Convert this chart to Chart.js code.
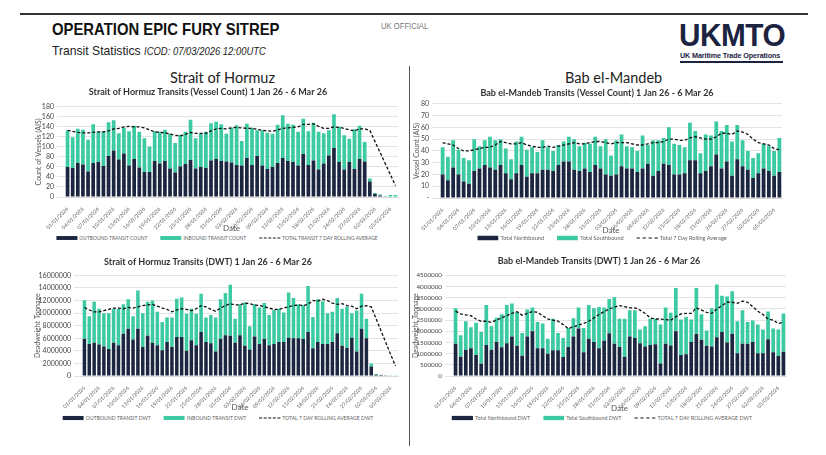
<!DOCTYPE html>
<html lang="en">
<head>
<meta charset="UTF-8">
<title>Operation Epic Fury Sitrep - Transit Statistics</title>
<script src="https://cdn.jsdelivr.net/npm/chart.js"></script>
<style>
    body { margin: 0; width: 826px; height: 455px; background: #fff; position: relative; overflow: hidden; font-family: 'Liberation Sans', Arial, sans-serif; }
    .abs { position: absolute; white-space: nowrap; }
    #topLine { left: 20px; top: 13px; width: 788px; height: 2px; background: #333; }
    #mainTitle { left: 52px; top: 20px; font-size: 16.5px; font-weight: bold; color: #111; transform: scaleX(0.9); transform-origin: left; }
    #subTitle { left: 52px; top: 43px; font-size: 13.5px; color: #222; transform: scaleX(0.9); transform-origin: left; }
    #subTitle i { font-size: 10.5px; }
    #official { left: 381px; top: 21px; font-size: 8.5px; color: #777; transform: scaleX(0.9); transform-origin: left; }
    #logo { left: 679px; top: 18px; font-size: 31px; font-weight: bold; color: #1b2340; transform: scaleX(0.96); transform-origin: left; letter-spacing: -0.5px; }
    #logoSub { left: 680px; top: 51px; font-size: 7.2px; font-weight: bold; color: #1b2340; letter-spacing: -0.1px; }
    #logoLine { left: 680px; top: 61px; width: 103px; height: 2px; background: #1b2340; }
    #divider { left: 409px; top: 66px; width: 1px; height: 380px; background: #555; }
    .section { font-family: Lato, sans-serif; font-size: 14.5px; color: #222; top: 69px; }
    canvas { position: absolute; }
    /* legend text is drawn at 10px and scaled down, small css font sizes get clamped */
    .legend { position: absolute; display: flex; align-items: center; justify-content: center; height: 14px; font-family: Lato, sans-serif;
              font-size: 10px; color: #5f5f5f; white-space: nowrap; transform-origin: left center; }
    .legend-item { display: flex; align-items: center; }
    .swatch { display: inline-block; width: 40px; height: 8px; margin-right: 4px; }
    .swatch.dash { height: 0; border-top: 2.5px dashed #111; }
</style>
</head>
<body>
    <div class="abs" id="topLine"></div>
    <div class="abs" id="mainTitle">OPERATION EPIC FURY SITREP</div>
    <div class="abs" id="subTitle">Transit Statistics <i>ICOD: 07/03/2026 12:00UTC</i></div>
    <div class="abs" id="official">UK OFFICIAL</div>
    <div class="abs" id="logo">UKMTO</div>
    <div class="abs" id="logoSub">UK Maritime Trade Operations</div>
    <div class="abs" id="logoLine"></div>
    <div class="abs" id="divider"></div>
    <div class="abs section" style="left:170px;">Strait of Hormuz</div>
    <div class="abs section" style="left:565px;">Bab el-Mandeb</div>

    <canvas id="hormuzCount" width="390" height="147" style="left:18px; top:86px;"></canvas>
    <canvas id="babCount" width="395" height="151" style="left:412px; top:84px;"></canvas>
    <canvas id="hormuzDwt" width="390" height="160" style="left:18px; top:252px;"></canvas>
    <canvas id="babDwt" width="395" height="161" style="left:412px; top:252px;"></canvas>

    <script>
        // Dates 1 Jan 26 - 6 Mar 26
        const dates = [
            '01/01/2026','02/01/2026','03/01/2026','04/01/2026','05/01/2026','06/01/2026','07/01/2026','08/01/2026','09/01/2026','10/01/2026',
            '11/01/2026','12/01/2026','13/01/2026','14/01/2026','15/01/2026','16/01/2026','17/01/2026','18/01/2026','19/01/2026','20/01/2026',
            '21/01/2026','22/01/2026','23/01/2026','24/01/2026','25/01/2026','26/01/2026','27/01/2026','28/01/2026','29/01/2026','30/01/2026',
            '31/01/2026','01/02/2026','02/02/2026','03/02/2026','04/02/2026','05/02/2026','06/02/2026','07/02/2026','08/02/2026','09/02/2026',
            '10/02/2026','11/02/2026','12/02/2026','13/02/2026','14/02/2026','15/02/2026','16/02/2026','17/02/2026','18/02/2026','19/02/2026',
            '20/02/2026','21/02/2026','22/02/2026','23/02/2026','24/02/2026','25/02/2026','26/02/2026','27/02/2026','28/02/2026','01/03/2026',
            '02/03/2026','03/03/2026','04/03/2026','05/03/2026','06/03/2026'
        ];

        // Strait of Hormuz - vessel count
        const hormuzOutCount = [60,58,68,65,51,68,70,62,82,93,75,87,63,76,59,50,50,72,67,72,57,49,61,66,74,57,60,58,73,76,
            72,71,69,64,63,78,64,82,63,56,60,68,78,72,70,63,86,64,73,55,67,83,98,70,55,70,56,76,71,31,6,3,1,1,1];
        const hormuzInCount = [73,61,68,69,63,77,60,69,67,60,52,51,68,66,71,67,51,59,63,62,69,59,63,64,80,60,66,72,74,74,
            73,55,69,79,49,68,74,51,70,72,66,76,85,74,74,67,70,67,75,75,60,50,67,70,68,46,79,66,39,6,2,2,1,3,3];
        const hormuzAvgCount = [133,131,129,128,128,129,130,130,132,136,137,140,141,140,140,138,134,130,129,128,126,123,122,125,129,127,127,127,132,136,
            137,136,138,139,138,137,137,135,133,132,131,134,137,138,139,140,145,145,146,141,137,137,140,139,137,134,132,136,136,133,111,89,67,45,23];

        // Bab el-Mandeb - vessel count
        const babNorthCount = [20,15,26,20,14,12,23,25,28,26,24,28,21,16,21,28,18,21,21,24,24,23,28,31,31,24,23,25,22,28,
            25,20,19,20,27,25,25,22,25,29,19,23,29,28,20,20,21,32,32,21,23,27,37,25,31,19,33,27,24,17,21,25,23,19,22];
        const babSouthCount = [23,20,23,21,20,20,27,19,21,26,25,22,21,17,27,24,23,22,18,25,19,17,17,17,21,26,21,22,24,24,
            19,30,17,29,27,19,18,18,28,16,30,26,22,32,26,25,22,32,25,17,31,26,28,32,31,29,29,22,16,17,17,21,21,21,29];
        const babAvgCount = [47,46,45,42,40,40,41,42,43,43,45,48,47,46,46,47,45,44,43,43,44,43,44,45,46,47,46,46,47,48,
            48,47,46,47,47,47,46,45,45,46,47,47,48,50,50,49,49,51,52,51,50,50,52,55,55,54,57,56,54,50,47,46,45,42,41];

        // Strait of Hormuz - deadweight tonnage
        const hormuzOutDwt = [5900000,5100000,5300000,5000000,4700000,4300000,5300000,4900000,6700000,7500000,5800000,7500000,4600000,6400000,5300000,
            4900000,4100000,5400000,4600000,6200000,6200000,4000000,5700000,4900000,7000000,5400000,5200000,3900000,5900000,6500000,
            6400000,5300000,6500000,4800000,4200000,6300000,5100000,5900000,4900000,5100000,5400000,5400000,6100000,6000000,6000000,
            5900000,7000000,4400000,5400000,5100000,5100000,5400000,6800000,4800000,4500000,6100000,3900000,7500000,6000000,1500000,
            200000,150000,100000,60000,60000];
        const hormuzInDwt = [6150000,4400000,6500000,5700000,5300000,5700000,5400000,5800000,4700000,4700000,3700000,6100000,5400000,5400000,6700000,
            5300000,4500000,3900000,4700000,6100000,6300000,5900000,5000000,5000000,6100000,3900000,4500000,5400000,6300000,6700000,
            8100000,3800000,4900000,6900000,3700000,5100000,5800000,5700000,4800000,5400000,5300000,4700000,7200000,6400000,5400000,
            5400000,7300000,5000000,6800000,6800000,4900000,4800000,5600000,5900000,6500000,3900000,6500000,5600000,3100000,500000,
            100000,50000,30000,40000,40000];
        const hormuzAvgDwt = [10900000,10500000,10200000,10200000,10400000,10600000,10800000,10800000,10700000,10900000,10800000,11000000,11200000,11300000,11400000,
            11100000,10800000,10600000,10200000,10500000,10700000,10600000,10400000,10700000,11200000,11000000,10600000,10300000,10800000,11200000,
            11500000,11300000,11300000,11600000,11500000,11300000,11200000,11000000,10800000,10600000,10600000,10800000,11000000,11200000,11300000,
            11200000,11400000,12000000,11900000,12200000,12000000,11600000,11400000,11500000,11200000,11100000,10700000,11100000,11200000,11000000,
            9100000,7200000,5300000,3400000,1600000];

        // Bab el-Mandeb - deadweight tonnage
        const babNorthDwt = [1440000,860000,1170000,1240000,940000,550000,1390000,1170000,1520000,1290000,1470000,1770000,1350000,910000,1770000,
            2000000,1240000,1240000,1000000,1150000,1150000,850000,1300000,1770000,2120000,1060000,1670000,1520000,1240000,1580000,
            1910000,1440000,1300000,860000,1770000,1700000,1470000,1320000,1390000,1420000,560000,1440000,1360000,2000000,940000,
            970000,1520000,1880000,1620000,1350000,1320000,1730000,1970000,1500000,1890000,1020000,1440000,1440000,1520000,1020000,
            1020000,1640000,1060000,890000,1090000];
        const babSouthDwt = [1590000,960000,1280000,940000,1440000,1420000,1790000,1060000,1090000,1470000,1710000,1470000,1510000,1010000,1200000,
            1060000,1180000,1110000,670000,1410000,770000,850000,850000,810000,940000,1090000,1510000,1510000,1850000,1480000,
            1530000,2080000,1260000,1700000,1170000,1240000,610000,910000,1170000,1140000,1740000,1620000,1470000,1940000,1590000,
            1670000,1010000,2060000,1140000,680000,1710000,2360000,1620000,2060000,1900000,1430000,1500000,970000,960000,1280000,
            1060000,1240000,1060000,1190000,1710000];
        const babAvgDwt = [2900000,2780000,2730000,2700000,2550000,2450000,2450000,2400000,2500000,2600000,2700000,2800000,2880000,2720000,2800000,
            2880000,2850000,2700000,2550000,2500000,2450000,2300000,2120000,2200000,2280000,2350000,2450000,2600000,2750000,2880000,
            3000000,3080000,3150000,3100000,3050000,3050000,2950000,2800000,2600000,2550000,2550000,2520000,2500000,2650000,2780000,
            2800000,2800000,3050000,2950000,2850000,2800000,3000000,3150000,3300000,3300000,3250000,3350000,3300000,3100000,2900000,
            2750000,2550000,2500000,2350000,2400000];

        const NAVY = '#1c2640';
        const TEAL = '#3ccaa2';
        Chart.defaults.font.family = 'Lato';

        // Legend drawn as html under each chart, centred on cx
        function addLegend(chart, cx, y, scale) {
            const box = document.createElement('div');
            box.className = 'legend';
            const w = 380;
            box.style.width = (w / scale) + 'px';
            box.style.left = (cx - w / 2) + 'px';
            box.style.top = (y - 7) + 'px';
            box.style.gap = (13 / scale) + 'px';
            box.style.transform = 'scale(' + scale + ')';
            chart.data.datasets.forEach((ds) => {
                const item = document.createElement('div');
                item.className = 'legend-item';
                const sw = document.createElement('span');
                sw.className = ds.type === 'line' ? 'swatch dash' : 'swatch';
                sw.style.width = (21 / scale) + 'px';
                if (ds.type !== 'line') sw.style.background = ds.backgroundColor;
                item.appendChild(sw);
                item.appendChild(document.createTextNode(ds.label));
                box.appendChild(item);
            });
            document.body.appendChild(box);
        }

        // lay = padding and fixed axis sizes for each panel
        function createChart(canvasId, title, dark, teal, avg, names, yTitle, yMax, yStep, zeroLabel, lay) {
            const chart = new Chart(document.getElementById(canvasId), {
                type: 'bar',
                data: {
                    labels: dates,
                    datasets: [
                        { label: names[0], data: dark, backgroundColor: NAVY, stack: 'v', order: 1, barPercentage: 0.72, categoryPercentage: 1 },
                        { label: names[1], data: teal, backgroundColor: TEAL, stack: 'v', order: 1, barPercentage: 0.72, categoryPercentage: 1 },
                        { type: 'line', label: names[2], data: avg, borderColor: '#111', borderWidth: 1.3, borderDash: [3, 2],
                          pointRadius: 0, fill: false, stack: 'avg', order: 0, tension: 0 }
                    ]
                },
                options: {
                    responsive: false,
                    animation: false,
                    layout: { padding: { left: 0, right: lay.right, top: lay.top, bottom: 0 } },
                    plugins: {
                        title: { display: true, text: title, color: '#333', font: { size: 9, weight: 'bold' }, padding: { top: 0, bottom: lay.titleGap } },
                        tooltip: { enabled: false },
                        legend: { display: false }
                    },
                    scales: {
                        x: {
                            stacked: true,
                            grid: { display: false },
                            border: { color: '#d9d9d9' },
                            afterFit: (s) => { s.height = lay.xHeight; },
                            ticks: {
                                autoSkip: false, maxRotation: 45, minRotation: 45, color: '#555', font: { size: 5.2 }, padding: 1,
                                callback: (v, i) => i % 3 === 0 ? dates[i] : ''
                            },
                            title: { display: true, text: 'Date', color: '#555', font: { size: 8 }, padding: 0 }
                        },
                        y: {
                            stacked: true, min: 0, max: yMax,
                            grid: { color: '#e4e4e4' },
                            border: { display: false },
                            afterFit: (s) => { s.width = lay.yWidth; },
                            ticks: {
                                stepSize: yStep, autoSkip: false, color: '#444', font: { size: lay.tickSize },
                                callback: (v) => v === 0 ? zeroLabel : String(v)
                            },
                            title: { display: true, text: yTitle, color: '#555', font: { size: 7 }, padding: { top: lay.yTitleX, bottom: 0 } }
                        }
                    }
                }
            });
            addLegend(chart, lay.legendCx, lay.legendY, lay.legendScale);
        }

        createChart('hormuzCount', 'Strait of Hormuz Transits (Vessel Count) 1 Jan 26 - 6 Mar 26',
            hormuzOutCount, hormuzInCount, hormuzAvgCount,
            ['OUTBOUND TRANSIT COUNT', 'INBOUND TRANSIT COUNT', 'TOTAL TRANSIT 7 DAY ROLLING AVERAGE'],
            'Count of Vessels (AIS)', 180, 20, '0',
            { right: 10, top: 1, titleGap: 9, yWidth: 47, yTitleX: 17, tickSize: 7, xHeight: 36, legendY: 238, legendCx: 217, legendScale: 0.49 });
        createChart('babCount', 'Bab el-Mandeb Transits (Vessel Count) 1 Jan 26 - 6 Mar 26',
            babNorthCount, babSouthCount, babAvgCount,
            ['Total Northbound', 'Total Southbound', 'Total 7 Day Rolling Average'],
            'Vessel Count (AIS)', 80, 10, '-',
            { right: 25, top: 4, titleGap: 5, yWidth: 28, yTitleX: 1, tickSize: 7, xHeight: 37, legendY: 238, legendCx: 602, legendScale: 0.56 });
        createChart('hormuzDwt', 'Strait of Hormuz Transits (DWT) 1 Jan 26 - 6 Mar 26',
            hormuzOutDwt, hormuzInDwt, hormuzAvgDwt,
            ['OUTBOUND TRANSIT DWT', 'INBOUND TRANSIT DWT', 'TOTAL 7 DAY ROLLING AVERAGE DWT'],
            'Deadweight Tonnage', 16000000, 2000000, '0',
            { right: 10, top: 5, titleGap: 7.6, yWidth: 64, yTitleX: 16, tickSize: 7, xHeight: 36, legendY: 418, legendCx: 218, legendScale: 0.51 });
        createChart('babDwt', 'Bab el-Mandeb Transits (DWT) 1 Jan 26 - 6 Mar 26',
            babNorthDwt, babSouthDwt, babAvgDwt,
            ['Total Northbound DWT', 'Total Southbound DWT', 'TOTAL 7 DAY ROLLING AVERAGE DWT'],
            'Deadweight Tonnage', 4500000, 500000, '0',
            { right: 21, top: 4, titleGap: 8.6, yWidth: 41, yTitleX: 0, tickSize: 6.3, xHeight: 37, legendY: 418, legendCx: 602, legendScale: 0.53 });
    </script>
</body>
</html>
